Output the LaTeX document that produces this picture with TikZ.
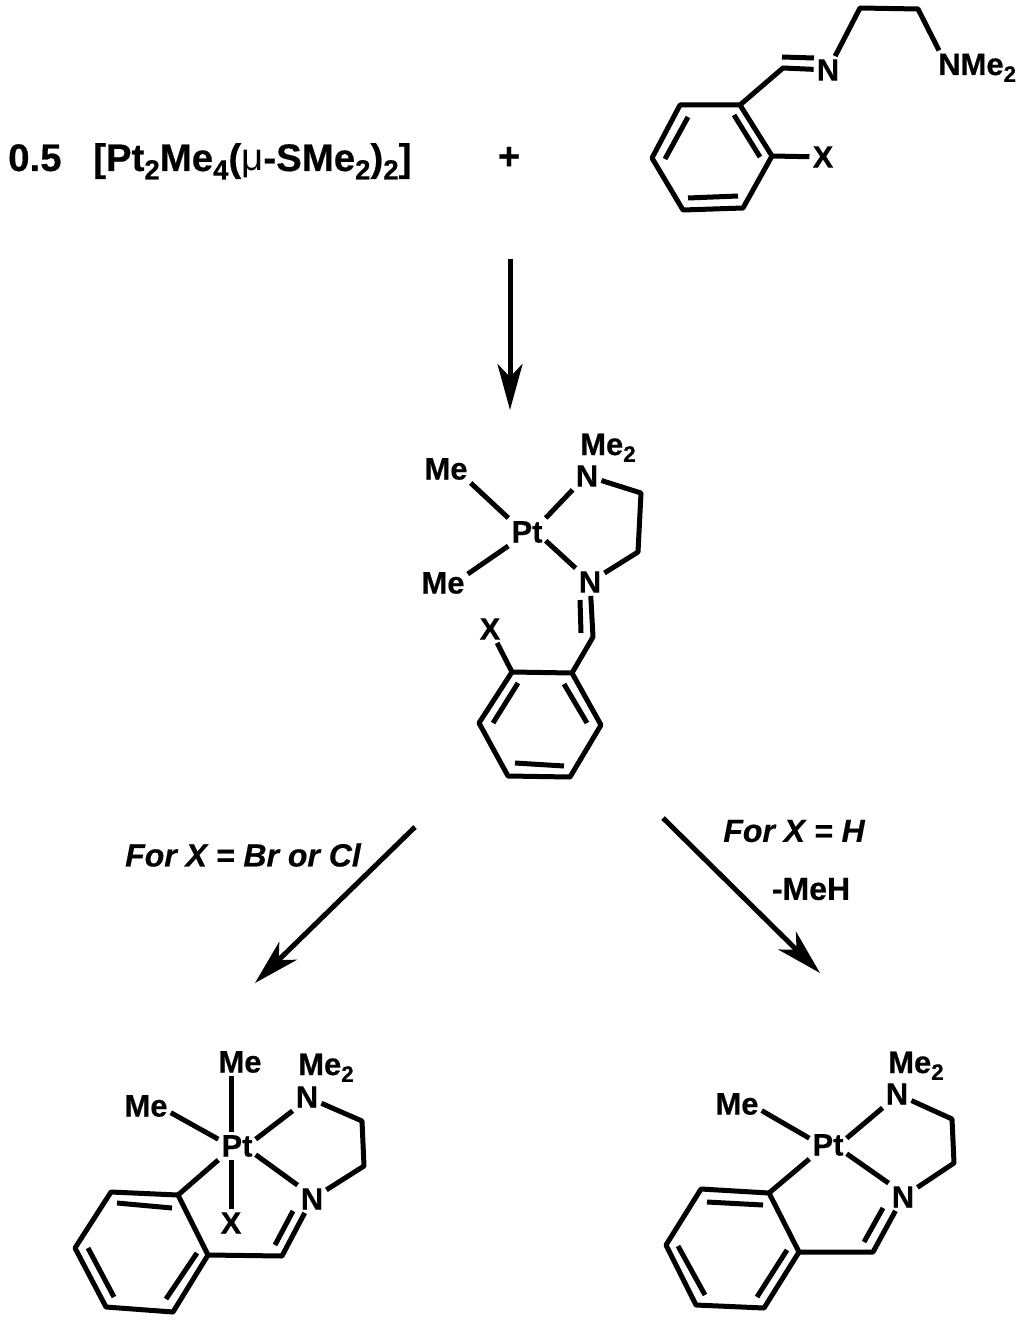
\documentclass[tikz,border=0pt]{standalone}
\usepackage{fontspec}
\setmainfont{Liberation Sans}[BoldFeatures={FakeBold=0.5}, BoldItalicFeatures={FakeBold=0.5}]
\usetikzlibrary{arrows.meta}
\newcommand{\lowsub}[1]{\raisebox{-.22em}{\fontsize{.72em}{1em}\selectfont #1}}
\tikzset{
  atom/.style={font=\bfseries\fontsize{31}{31}\selectfont, inner sep=3pt},
  formula/.style={font=\bfseries\fontsize{38.4}{38.4}\selectfont, inner sep=0pt, anchor=base west},
  condition/.style={font=\bfseries\fontsize{32}{32}\selectfont, inner sep=0pt},
  bond/.style={line width=5pt, line join=round},
  reaction/.style={line width=5pt, -{Stealth[length=46pt, width=25pt, inset=13pt]}}
}
\begin{document}
\begin{tikzpicture}[x=1pt, y=-1pt]
\useasboundingbox (0,0) rectangle (1024,1321);

\node[formula] (half) at (8,171) {0.5};
\node[formula] (dimer) at (93,171) {[Pt\lowsub{2}Me\lowsub{4}({\mdseries μ}-SMe\lowsub{2})\lowsub{2}]};
\node[atom, font=\bfseries\fontsize{38}{38}\selectfont] (plus) at (509,158) {+};

\foreach \n/\x/\y in {a1/740/105, a2/772/156, a3/743/208, a4/683/210, a5/652/158, a6/680/105,
  ai1/734/115, ai2/760/157, ai3/738/196, ai4/688/198, ai5/665/159, ai6/688/117,
  aCH/783/68, aD1/782/57, aD2/814/58, aE1/860/8, aE2/918/9}
  \coordinate (\n) at (\x,\y);
\node[atom] (Xa) at (823,157) {X};
\node[atom] (Na) at (828,70) {N};
\node[atom, anchor=base west] (NMea) at (935,75) {NMe\lowsub{2}};
\draw[bond] (a1)--(a2)--(a3)--(a4)--(a5)--(a6)--cycle;
\draw[bond] (ai1)--(ai2) (ai3)--(ai4) (ai5)--(ai6);
\draw[bond] (a2)--(Xa);
\draw[bond] (a1)--(aCH)--(Na);
\draw[bond] (aD1)--(aD2);
\draw[bond] (Na)--(aE1)--(aE2)--([xshift=4pt]NMea.north west);

\coordinate (s1) at (510,259);
\coordinate (s2) at (510,410);
\draw[reaction] (s1)--(s2);

\foreach \n/\x/\y in {b1/572/673, b2/601/725, b3/570/777, b4/508/776, b5/479/723, b6/512/672,
  bi1/564/684, bi2/587/723, bi3/564/766, bi4/515/763, bi5/493/723, bi6/518/683,
  bCH/593/637, bD1/580/600, bD2/581/633, bE1/641/493, bE2/638/552}
  \coordinate (\n) at (\x,\y);
\node[atom] (Ptb) at (527,532) {Pt};
\node[atom] (Meb1) at (446,469) {Me};
\node[atom] (Meb2) at (443,583) {Me};
\node[atom] (Nb1) at (587,476) {N};
\node[atom] (Nb2) at (590,582) {N};
\node[atom, inner sep=0pt, anchor=base west] (Meb3) at (580,455) {Me\lowsub{2}};
\node[atom] (Xb) at (490,629) {X};
\draw[bond] (b1)--(b2)--(b3)--(b4)--(b5)--(b6)--cycle;
\draw[bond] (bi1)--(bi2) (bi3)--(bi4) (bi5)--(bi6);
\draw[bond] (b6)--(Xb);
\draw[bond] (b1)--(bCH)--(Nb2);
\draw[bond] (bD1)--(bD2);
\draw[bond] (Nb2)--(bE2)--(bE1)--(Nb1);
\draw[bond] (Meb1.south east)--(Ptb.north west);
\draw[bond] (Meb2.20)--(Ptb.south west);
\draw[bond] (Ptb.north east)--(Nb1.south west);
\draw[bond] (Ptb.-25)--(Nb2.north west);

\coordinate (l1) at (415,827);
\coordinate (l2) at (255,983);
\coordinate (r1) at (663,818);
\coordinate (r2) at (820,973);
\draw[reaction] (l1)--(l2);
\draw[reaction] (r1)--(r2);
\node[condition, font=\bfseries\itshape\fontsize{32}{32}\selectfont] (forBrCl) at (243,855) {For X = Br or Cl};
\node[condition, font=\bfseries\itshape\fontsize{32}{32}\selectfont] (forH) at (794,831) {For X = H};
\node[condition] (loss) at (811,889) {-MeH};

\foreach \n/\x/\y in {c1/178/1195, c2/208/1255, c3/173/1312, c4/106/1307, c5/75/1248, c6/111/1192,
  ci1/172/1208, ci2/117/1203, ci3/88/1248, ci4/114/1297, ci5/166/1299, ci6/197/1253,
  cCH/282/1256, cD1/275/1245, cD2/293/1211, cE1/362/1121, cE2/364/1166}
  \coordinate (\n) at (\x,\y);
\node[atom] (Ptc) at (237,1146) {Pt};
\node[atom] (Mec1) at (240,1062) {Me};
\node[atom] (Mec2) at (146,1106) {Me};
\node[atom] (Nc1) at (307,1097) {N};
\node[atom] (Nc2) at (312,1199) {N};
\node[atom] (Xc) at (231,1223) {X};
\node[atom, inner sep=0pt, anchor=base west] (Mec3) at (298,1075) {Me\lowsub{2}};
\draw[bond] (c1)--(c2)--(c3)--(c4)--(c5)--(c6)--cycle;
\draw[bond] (ci1)--(ci2) (ci3)--(ci4) (ci5)--(ci6);
\draw[bond] (c1)--(Ptc.south west);
\draw[bond] (c2)--(cCH)--(Nc2);
\draw[bond] (cD1)--(cD2);
\draw[bond] (Nc2)--(cE2)--(cE1)--(Nc1);
\draw[bond] (Mec1.south -| Xc)--(Ptc.north -| Xc);
\draw[bond] (Ptc.south -| Xc)--(Xc.north);
\draw[bond] (Mec2.-15)--(Ptc.160);
\draw[bond] (Ptc.20)--(Nc1.south west);
\draw[bond] (Ptc.-25)--(Nc2.north west);

\foreach \n/\x/\y in {d1/769/1193, d2/799/1252, d3/764/1308, d4/696/1305, d5/666/1245, d6/701/1189,
  di1/763/1205, di2/707/1202, di3/678/1246, di4/705/1295, di5/757/1297, di6/787/1250,
  dCH/873/1252, dD1/864/1242, dD2/883/1208, dE1/952/1119, dE2/954/1163}
  \coordinate (\n) at (\x,\y);
\node[atom] (Ptd) at (828,1145) {Pt};
\node[atom] (Med1) at (737,1104) {Me};
\node[atom] (Nd1) at (897,1094) {N};
\node[atom] (Nd2) at (903,1197) {N};
\node[atom, inner sep=0pt, anchor=base west] (Med2) at (888,1073) {Me\lowsub{2}};
\draw[bond] (d1)--(d2)--(d3)--(d4)--(d5)--(d6)--cycle;
\draw[bond] (di1)--(di2) (di3)--(di4) (di5)--(di6);
\draw[bond] (d1)--(Ptd.south west);
\draw[bond] (d2)--(dCH)--(Nd2);
\draw[bond] (dD1)--(dD2);
\draw[bond] (Nd2)--(dE2)--(dE1)--(Nd1);
\draw[bond] (Med1.-15)--(Ptd.160);
\draw[bond] (Ptd.20)--(Nd1.south west);
\draw[bond] (Ptd.-25)--(Nd2.north west);
\end{tikzpicture}
\end{document}
